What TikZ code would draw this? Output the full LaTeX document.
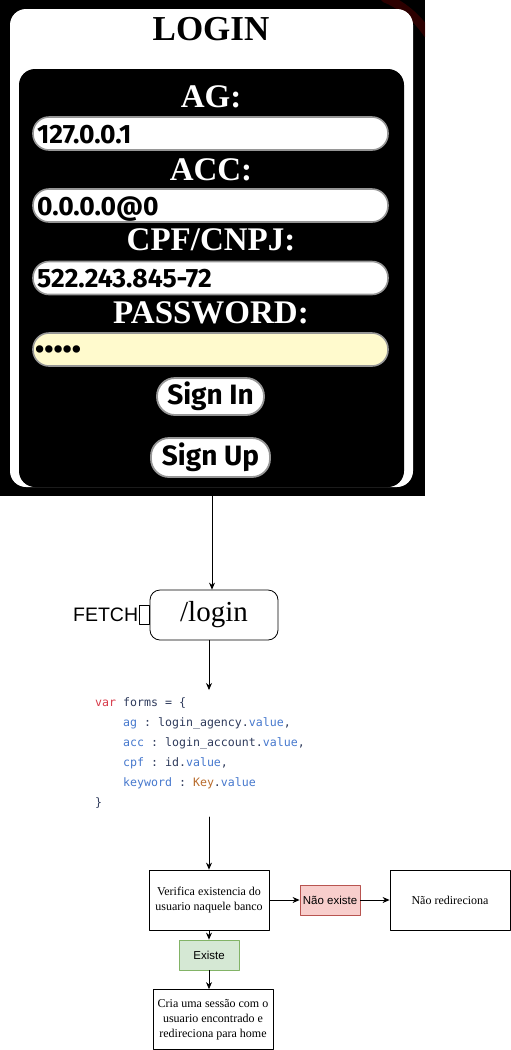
\documentclass[tikz,border=0pt]{standalone}
\usepackage{fontspec}
\setmainfont{Liberation Serif}
\setsansfont{Liberation Sans}
\setmonofont{DejaVu Sans Mono}
\newfontfamily\uifont{Fira Sans}
\usetikzlibrary{arrows.meta,positioning}
\definecolor{fieldGray}{RGB}{150, 150, 150}
\definecolor{passYellow}{RGB}{255, 250, 205}
\definecolor{nokRed}{RGB}{248, 206, 204}
\definecolor{nokBorder}{RGB}{184, 84, 80}
\definecolor{okGreen}{RGB}{213, 232, 212}
\definecolor{okBorder}{RGB}{130, 179, 102}
\definecolor{codeRed}{RGB}{215, 58, 73}
\definecolor{codeNavy}{RGB}{47, 59, 92}
\definecolor{codeBlue}{RGB}{70, 120, 205}
\definecolor{codeOrange}{RGB}{184, 107, 44}
\newcommand\codeindent{\hspace*{28pt}}

\begin{document}
\begin{tikzpicture}[x=1pt, y=-1pt, line cap=round, line join=round,
    flow/.style={draw, line width=0.8pt, -{Stealth[length=7pt,width=6pt]}},
    formlabel/.style={text=white, font=\bfseries\fontsize{33}{36}\selectfont, anchor=base},
    field/.style={draw=fieldGray, line width=1.6pt, fill=white, rounded corners=16pt,
        minimum width=355pt, minimum height=33pt, inner sep=0pt},
    fieldtext/.style={font=\uifont\bfseries\fontsize{26.5}{28}\selectfont, anchor=base west, inner sep=0pt},
    button/.style={draw=fieldGray, line width=1.8pt, fill=white, rounded corners=18pt,
        inner sep=0pt, font=\uifont\bfseries\fontsize{28}{30}\selectfont},
    stepbox/.style={draw, line width=0.8pt, minimum width=120pt, minimum height=60pt,
        align=center, inner sep=2pt, font=\fontsize{12}{15}\selectfont},
    tagbox/.style={draw, line width=0.8pt, minimum width=60pt, minimum height=30pt,
        inner sep=0pt, font=\sffamily\fontsize{11.5}{13}\selectfont}]
    \useasboundingbox (0,0) rectangle (511,1050);
    % login screenshot
    \fill[black] (0,0) rectangle (425,496);
    \begin{scope}
        \clip (0,0) rectangle (425,496);
        \draw[red!35!black, line width=9pt, opacity=0.5] (385,-2) .. controls (400,4) and (416,16) .. (428,34);
    \end{scope}
    \fill[white, rounded corners=16pt] (10,9) rectangle (413,487);
    \fill[black, rounded corners=16pt] (19,69) rectangle (404,487);
    \node[font=\bfseries\fontsize{35}{40}\selectfont, anchor=base] (title) at (211,40) {LOGIN};
    \node[formlabel] (aglabel) at (211,107) {AG:};
    \node[formlabel] (acclabel) at (211,180) {ACC:};
    \node[formlabel] (cpflabel) at (211,250) {CPF/CNPJ:};
    \node[formlabel] (passlabel) at (211,323) {PASSWORD:};
    \node[field] (agfield) at (210.5,133.5) {};
    \node[field] (accfield) at (210.5,205.5) {};
    \node[field] (cpffield) at (210.5,278) {};
    \node[field, fill=passYellow] (passfield) at (210.5,349.5) {};
    \node[fieldtext] at (37,143) {127.0.0.1};
    \node[fieldtext] at (37,215) {0.0.0.0@0};
    \node[fieldtext] at (37,287.5) {522.243.845-72};
    \node[fieldtext] at (35,358) {•••••};
    \node[button, minimum width=107pt, minimum height=37pt] (signin) at (210.5,396.5) {Sign In};
    \node[button, minimum width=119pt, minimum height=39pt] (signup) at (210.5,457.5) {Sign Up};
    \coordinate (screen) at (212,496);

    % fetch route
    \node[draw, line width=0.8pt, rounded corners=10pt, minimum width=128pt, minimum height=50pt,
        font=\fontsize{29}{32}\selectfont] (login) at (214,615) {/login};
    \node[draw, line width=0.8pt, minimum width=10pt, minimum height=19pt, inner sep=0pt,
        anchor=east] (fetchport) at (login.west) {};
    \node[font=\sffamily\fontsize{19.5}{22}\selectfont, anchor=east, inner sep=0.5pt] (fetch) at (fetchport.west) {FETCH};
    \draw[flow] (screen) -- (screen |- login.north);

    % request body
    \coordinate (codetop) at (209,690);
    \draw[flow] (login.south -| codetop) -- (codetop);
    \node[anchor=north west, align=left, inner sep=0pt, text=codeNavy,
        font=\ttfamily\fontsize{11.6}{20}\selectfont] (code) at (95,697) {%
        {\color{codeRed}var} forms = \{\\
        \codeindent{\color{codeBlue}ag} : login\_agency.{\color{codeBlue}value},\\
        \codeindent{\color{codeBlue}acc} : login\_account.{\color{codeBlue}value},\\
        \codeindent{\color{codeBlue}cpf} : id.{\color{codeBlue}value},\\
        \codeindent{\color{codeBlue}keyword} : {\color{codeOrange}Key}.{\color{codeBlue}value}\\
        \}};
    \coordinate (codebot) at (209,817);

    % checks
    \node[stepbox] (verify) at (209,900) {Verifica existencia do\\usuario naquele banco};
    \node[tagbox, fill=nokRed, draw=nokBorder] (missing) at (330,900) {Não existe};
    \node[stepbox] (noredirect) at (450,900) {Não redireciona};
    \node[tagbox, fill=okGreen, draw=okBorder] (found) at (209,955) {Existe};
    \node[stepbox] (session) at (213,1019.5) {Cria uma sessão com o\\usuario encontrado e\\redireciona para home};
    \draw[flow] (codebot) -- (verify.north);
    \draw[flow] (verify) -- (missing);
    \draw[flow] (missing) -- (noredirect);
    \draw[flow] (verify) -- (found);
    \draw[flow] (found) -- (found |- session.north);
\end{tikzpicture}
\end{document}
